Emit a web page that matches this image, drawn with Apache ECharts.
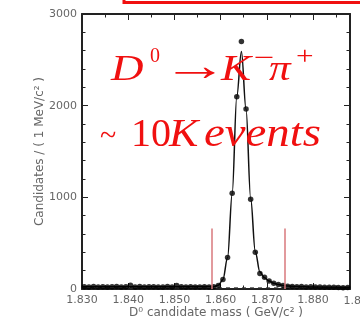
<!DOCTYPE html>
<html>
<head>
<meta charset="utf-8">
<script src="https://cdn.jsdelivr.net/npm/echarts@6/dist/echarts.min.js"></script>
<style>
  html, body { margin: 0; padding: 0; background: #fff; }
  #chart { width: 360px; height: 320px; }
</style>
</head>
<body>
<div id="chart"></div>
<script>
// 1 MeV bins, first bin centred at 1.8305 GeV
const massStart = 1.8305;
const binWidth = 0.001;
const counts = [
  24, 22, 26, 23, 25, 21, 24, 27, 22, 25,
  40, 23, 26, 22, 24, 25, 21, 23, 26, 22,
  38, 24, 22, 25, 23, 21, 24, 22, 25, 38,
  104, 345, 1045, 2098, 2700, 1964, 979, 400, 170, 129,
  88, 63, 48, 38, 30, 28, 24, 26, 22, 25,
  21, 23, 20, 18, 20, 17, 15, 16
];

// fitted curve
const fitMass = [1.830, 1.8585, 1.8595, 1.8605, 1.8615, 1.8625, 1.8635, 1.8645, 1.8655, 1.8665,
  1.8675, 1.8685, 1.8695, 1.8705, 1.8715, 1.8725, 1.8735, 1.8745, 1.8765, 1.880, 1.888];
const fitValues = [24, 26, 40, 105, 340, 1040, 2100, 2590, 1960, 990,
  410, 185, 122, 86, 63, 49, 39, 33, 27, 23, 18];

// background component (dashed)
const bgMass = [1.830, 1.888];
const bgValues = [14, 12];

// signal window cuts
const cutMass = [1.858, 1.8738];
const cutTop = 660;

const xMin = 1.830, xMax = 1.888, xStep = 0.01;
const yMin = 0, yMax = 3000, yStep = 1000;
const hiddenTickLabel = 1.890;

const points = counts.map((c, i) => [massStart + i * binWidth, c]);
const fitLine = fitMass.map((m, i) => [m, fitValues[i]]);
const bgLine = bgMass.map((m, i) => [m, bgValues[i]]);

const axisColor = '#222';
const labelColor = '#666';
const labelFont = 'DejaVu Sans';
const red = '#f01010';

function frameAxis(extra) {
  return Object.assign({
    type: 'value',
    axisLine: { show: true, onZero: false, lineStyle: { color: axisColor, width: 2 } },
    axisTick: { show: true, inside: true, length: 6, lineStyle: { color: axisColor, width: 1 } },
    splitLine: { show: false },
    axisLabel: { show: false }
  }, extra);
}

const chart = echarts.init(document.getElementById('chart'));

const xLabel = {
  show: true, color: labelColor, fontFamily: labelFont, fontSize: 11, margin: 6,
  showMaxLabel: false,
  formatter: v => v.toFixed(3)
};
const yLabel = {
  show: true, color: labelColor, fontFamily: labelFont, fontSize: 11, margin: 5,
  formatter: v => String(v)
};

const cutLines = cutMass.map(m => [{ coord: [m, 0] }, { coord: [m, cutTop] }]);

// red annotation, optionally stretched horizontally
const redText = (text, x, y, size, italic, sx) => ({
  type: 'text',
  x: x, y: y,
  scaleX: sx || 1,
  style: {
    text: text,
    fill: red,
    font: (italic ? 'italic ' : '') + size + 'px "Liberation Serif", "Times New Roman", serif',
    textAlign: 'left',
    textVerticalAlign: 'middle'
  },
  z: 10
});

const xMinor = { show: true, splitNumber: 2, length: 3.5, lineStyle: { color: axisColor } };
const yMinor = { show: true, splitNumber: 5, length: 3.5, lineStyle: { color: axisColor } };
const nameStyle = { color: labelColor, fontFamily: labelFont, fontSize: 12 };

chart.setOption({
  animation: false,
  grid: { left: 82, right: 10, top: 14, bottom: 31, outerBoundsMode: 'none' },
  xAxis: [
    frameAxis({
      min: xMin, max: xMax, interval: xStep, position: 'bottom',
      minorTick: xMinor,
      axisLabel: xLabel,
      name: 'D\u2070 candidate mass ( GeV/c\u00b2 )',
      nameLocation: 'middle', nameGap: 18, nameMoveOverlap: false,
      nameTextStyle: nameStyle
    }),
    frameAxis({
      min: xMin, max: xMax, interval: xStep, position: 'top',
      minorTick: xMinor
    })
  ],
  yAxis: [
    frameAxis({
      min: yMin, max: yMax, interval: yStep, position: 'left',
      minorTick: yMinor,
      axisLabel: yLabel,
      name: 'Candidates / ( 1 MeV/c\u00b2 )',
      nameLocation: 'middle', nameGap: 36, nameMoveOverlap: false,
      nameTextStyle: nameStyle
    }),
    frameAxis({
      min: yMin, max: yMax, interval: yStep, position: 'right',
      minorTick: yMinor
    })
  ],
  series: [
    {
      type: 'line', data: bgLine, symbol: 'none', silent: true,
      lineStyle: { color: '#333', width: 1, type: [4, 4] }, z: 1
    },
    {
      type: 'line', data: fitLine, symbol: 'none', smooth: 0.35, smoothMonotone: 'x', silent: true,
      lineStyle: { color: '#111', width: 1.5 }, z: 2,
      markLine: {
        silent: true, symbol: 'none', label: { show: false },
        lineStyle: { color: '#d8787c', width: 1.5, type: 'solid' },
        data: cutLines
      }
    },
    {
      type: 'scatter', data: points, symbol: 'circle', symbolSize: 5.5, silent: true,
      itemStyle: { color: '#000' }, z: 3
    }
  ]
});

const edge = chart.convertToPixel({ gridIndex: 0 }, [hiddenTickLabel, 0]);

chart.setOption({
  graphic: [
    {
      type: 'rect',
      shape: { x: 124, y: -20, width: 300, height: 22.5 },
      style: { fill: 'none', stroke: red, lineWidth: 3 }
    },
    {
      type: 'text',
      x: edge[0], y: edge[1] + 7,
      style: {
        text: hiddenTickLabel.toFixed(3), fill: labelColor,
        font: '11px "' + labelFont + '"', textAlign: 'center', textVerticalAlign: 'top'
      }
    },
    redText('D', 111, 71, 36, true, 1.25),
    redText('0', 150, 57, 20, false),
    redText('\u2192', 162, 68, 44, false, 1.5),
    redText('K', 221, 71, 36, true, 1.25),
    redText('\u2212', 254, 59, 26, false, 1.4),
    redText('\u03c0', 269, 71, 36, true, 1.2),
    redText('+', 296, 57, 26, false, 1.2),
    redText('~', 100, 137, 30, false),
    redText('10', 131, 135, 40, false),
    redText('K', 169, 135, 40, true, 1.1),
    redText('events', 204, 135, 40, true, 1.17)
  ]
});
</script>
</body>
</html>
